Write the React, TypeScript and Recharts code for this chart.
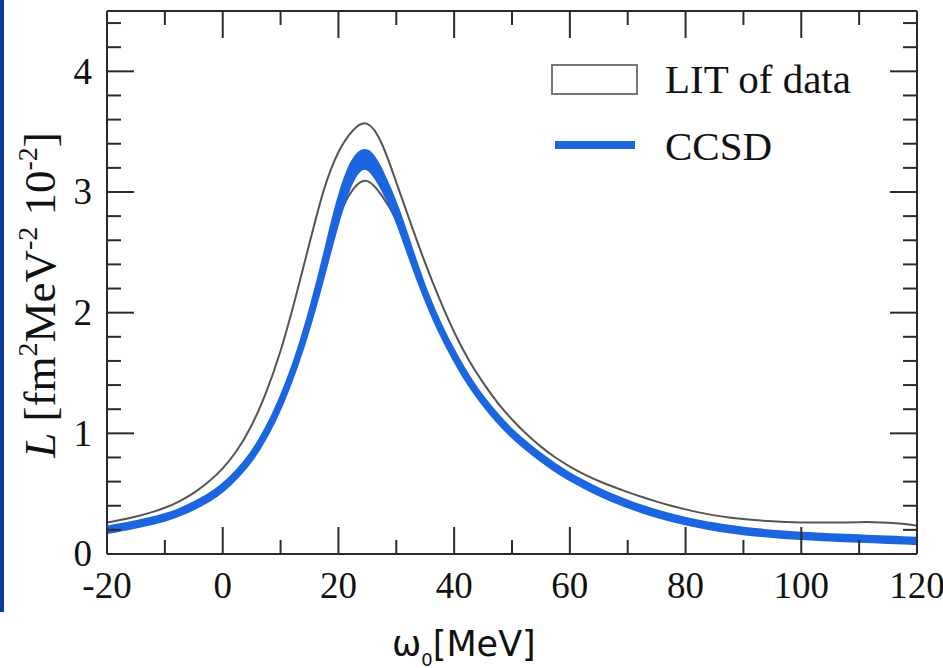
import React from 'react';
import { ComposedChart, Line, Area, XAxis, YAxis, Legend } from 'recharts';

// excitation energy omega_0 [MeV]
const omega = [
  -20, -17.5, -15, -12.5, -10, -7.5, -5, -2.5, 0, 2.5, 5, 7.5, 10, 12.5, 15, 17.5, 20, 22.5, 25, 27.5,
  30, 32.5, 35, 37.5, 40, 42.5, 45, 47.5, 50, 52.5, 55, 57.5, 60, 62.5, 65, 67.5, 70, 72.5, 75, 77.5,
  80, 82.5, 85, 87.5, 90, 92.5, 95, 97.5, 100, 102.5, 105, 107.5, 110, 112.5, 115, 117.5, 120,
];

// LIT of data band: upper edge
const litHi = [
  0.26, 0.283, 0.31, 0.343, 0.383, 0.437, 0.507, 0.597, 0.71, 0.862, 1.067, 1.34, 1.685, 2.11, 2.575, 3.02, 3.33, 3.51, 3.565, 3.40,
  3.08, 2.74, 2.41, 2.11, 1.84, 1.61, 1.42, 1.255, 1.115, 0.995, 0.89, 0.80, 0.725, 0.66, 0.605, 0.557, 0.513, 0.472, 0.434, 0.40,
  0.37, 0.343, 0.32, 0.303, 0.29, 0.279, 0.271, 0.265, 0.262, 0.261, 0.261, 0.262, 0.264, 0.264, 0.26, 0.25, 0.235,
];
// LIT of data band: lower edge
const litLo = [
  0.21, 0.232, 0.255, 0.282, 0.313, 0.355, 0.41, 0.475, 0.56, 0.675, 0.82, 1.015, 1.265, 1.575, 1.945, 2.37, 2.78, 3.02, 3.09, 2.97,
  2.77, 2.48, 2.15, 1.87, 1.635, 1.43, 1.26, 1.115, 0.99, 0.885, 0.79, 0.705, 0.63, 0.565, 0.505, 0.452, 0.405, 0.362, 0.325, 0.292,
  0.263, 0.238, 0.216, 0.197, 0.181, 0.168, 0.157, 0.148, 0.14, 0.134, 0.128, 0.123, 0.118, 0.113, 0.108, 0.103, 0.098,
];

// CCSD band: upper edge
const ccsdHi = [
  0.21, 0.232, 0.255, 0.282, 0.313, 0.355, 0.41, 0.475, 0.56, 0.675, 0.82, 1.015, 1.265, 1.575, 1.96, 2.415, 2.895, 3.235, 3.325, 3.145,
  2.86, 2.51, 2.17, 1.89, 1.655, 1.45, 1.28, 1.135, 1.01, 0.905, 0.81, 0.725, 0.65, 0.585, 0.525, 0.472, 0.425, 0.382, 0.345, 0.312,
  0.283, 0.258, 0.236, 0.217, 0.201, 0.188, 0.177, 0.168, 0.16, 0.154, 0.148, 0.143, 0.138, 0.133, 0.128, 0.123, 0.118,
];
// CCSD band: lower edge
const ccsdLo = [
  0.19, 0.212, 0.235, 0.262, 0.293, 0.335, 0.39, 0.455, 0.54, 0.655, 0.80, 0.995, 1.245, 1.555, 1.93, 2.365, 2.805, 3.125, 3.205, 3.055,
  2.80, 2.47, 2.15, 1.87, 1.635, 1.43, 1.26, 1.115, 0.99, 0.885, 0.79, 0.705, 0.63, 0.565, 0.505, 0.452, 0.405, 0.362, 0.325, 0.292,
  0.263, 0.238, 0.216, 0.197, 0.181, 0.168, 0.157, 0.148, 0.14, 0.134, 0.128, 0.123, 0.118, 0.113, 0.108, 0.103, 0.098,
];

const xTicks = [-20, -10, 0, 10, 20, 30, 40, 50, 60, 70, 80, 90, 100, 110, 120];
const yTicks = [0, 0.2, 0.4, 0.6, 0.8, 1, 1.2, 1.4, 1.6, 1.8, 2, 2.2, 2.4, 2.6, 2.8, 3, 3.2, 3.4, 3.6, 3.8, 4, 4.2, 4.4];

const legendLabels = ['LIT of data', 'CCSD'];

const data = omega.map((x, i) => ({
  x,
  litHi: litHi[i],
  litLo: litLo[i],
  ccsd: [ccsdLo[i], ccsdHi[i]],
}));

const SERIF = '"Liberation Serif", "Times New Roman", serif';
const SANS = '"DejaVu Sans", "Liberation Sans", Arial, sans-serif';
const AX = '#2b2b2b';
const GRAY = '#555555';
const BLUE = '#1b66e0';
const MAJ = 27;
const MIN = 14;

const isMajorX = (v: number) => Math.abs(v % 20) < 1e-6;
const isMajorY = (v: number) => Math.abs(v - Math.round(v)) < 1e-6;

const BottomTick = (p: any) => {
  const { x, y, payload } = p;
  const major = isMajorX(payload.value);
  return (
    <g>
      <line x1={x} x2={x} y1={y} y2={y - (major ? MAJ : MIN)} stroke={AX} strokeWidth={2} />
      {major && (
        <text x={x} y={y + 44} textAnchor="middle" fontFamily={SERIF} fontSize={37} fill="#111">
          {payload.value}
        </text>
      )}
    </g>
  );
};

const TopTick = (p: any) => {
  const { x, y, payload } = p;
  const major = isMajorX(payload.value);
  return <line x1={x} x2={x} y1={y} y2={y + (major ? MAJ : MIN)} stroke={AX} strokeWidth={2} />;
};

const LeftTick = (p: any) => {
  const { x, y, payload } = p;
  const major = isMajorY(payload.value);
  return (
    <g>
      <line x1={x} x2={x + (major ? MAJ : MIN)} y1={y} y2={y} stroke={AX} strokeWidth={2} />
      {major && (
        <text x={x - 15} y={y} dy="0.33em" textAnchor="end" fontFamily={SERIF} fontSize={37} fill="#111">
          {Math.round(payload.value)}
        </text>
      )}
    </g>
  );
};

const RightTick = (p: any) => {
  const { x, y, payload } = p;
  const major = isMajorY(payload.value);
  return <line x1={x} x2={x - (major ? MAJ : MIN)} y1={y} y2={y} stroke={AX} strokeWidth={2} />;
};

const YTitle = () => (
  <text transform="translate(55,295) rotate(-90)" textAnchor="middle" fontFamily={SERIF} fontSize={45} fill="#111">
    <tspan fontStyle="italic">L</tspan>
    <tspan> [fm</tspan>
    <tspan dy={-18} fontSize={28}>2</tspan>
    <tspan dy={18}>MeV</tspan>
    <tspan dy={-18} fontSize={28}>-2</tspan>
    <tspan dy={18}> 10</tspan>
    <tspan dy={-18} fontSize={28}>-2</tspan>
    <tspan dy={18}>]</tspan>
  </text>
);

const XTitle = () => (
  <text x={392} y={656} fontFamily={SANS} fontSize={35} fill="#111">
    ω<tspan dy={10} fontSize={18}>0</tspan>
    <tspan dy={-10} fontSize={35}>[MeV]</tspan>
  </text>
);

const LegendBox = () => (
  <svg width={340} height={130} style={{ display: 'block' }}>
    <rect x={12} y={15} width={85} height={29} fill="#fff" stroke="#777" strokeWidth={2} />
    <text x={125} y={43} fontFamily={SERIF} fontSize={41} fill="#111">{legendLabels[0]}</text>
    <line x1={15} x2={95} y1={95} y2={95} stroke={BLUE} strokeWidth={8} />
    <text x={125} y={110} fontFamily={SERIF} fontSize={41} fill="#111">{legendLabels[1]}</text>
  </svg>
);

export default function App() {
  return (
    <div style={{ position: 'absolute', left: 0, top: 0, width: 943, height: 668, background: '#fff', overflow: 'hidden' }}>
      <div style={{ position: 'absolute', left: 0, top: 0, width: 4, height: 612, background: '#0b3a9e' }} />
      <ComposedChart width={943} height={668} data={data} margin={{ top: 10, right: 25, bottom: 64, left: 47 }}>
        <XAxis
          dataKey="x"
          type="number"
          domain={[-20, 120]}
          allowDataOverflow
          ticks={xTicks}
          interval={0}
          tick={<BottomTick />}
          tickLine={false}
          tickSize={0}
          tickMargin={0}
          height={50}
          axisLine={{ stroke: AX, strokeWidth: 2 }}
          label={{ content: () => <XTitle /> }}
        />
        <XAxis
          xAxisId="top"
          orientation="top"
          dataKey="x"
          type="number"
          domain={[-20, 120]}
          allowDataOverflow
          ticks={xTicks}
          interval={0}
          tick={<TopTick />}
          tickLine={false}
          tickSize={0}
          tickMargin={0}
          height={1}
          axisLine={{ stroke: AX, strokeWidth: 2 }}
        />
        <YAxis
          type="number"
          domain={[0, 4.5]}
          allowDataOverflow
          ticks={yTicks}
          interval={0}
          tick={<LeftTick />}
          tickLine={false}
          tickSize={0}
          tickMargin={0}
          width={60}
          axisLine={{ stroke: AX, strokeWidth: 2 }}
          label={{ content: () => <YTitle /> }}
        />
        <YAxis
          yAxisId="right"
          orientation="right"
          type="number"
          domain={[0, 4.5]}
          allowDataOverflow
          ticks={yTicks}
          interval={0}
          tick={<RightTick />}
          tickLine={false}
          tickSize={0}
          tickMargin={0}
          width={1}
          axisLine={{ stroke: AX, strokeWidth: 2 }}
        />
        <Line dataKey="litHi" type="natural" stroke={GRAY} strokeWidth={2} dot={false} activeDot={false} isAnimationActive={false} />
        <Line dataKey="litLo" type="natural" stroke={GRAY} strokeWidth={2} dot={false} activeDot={false} isAnimationActive={false} />
        <Area dataKey="ccsd" type="natural" stroke={BLUE} strokeWidth={6} fill={BLUE} fillOpacity={1} dot={false} activeDot={false} isAnimationActive={false} zIndex={600} />
        <Legend
          layout="vertical"
          align="center"
          verticalAlign="middle"
          wrapperStyle={{ left: 540, top: 50, width: 340, height: 130 }}
          content={() => <LegendBox />}
        />
      </ComposedChart>
    </div>
  );
}
